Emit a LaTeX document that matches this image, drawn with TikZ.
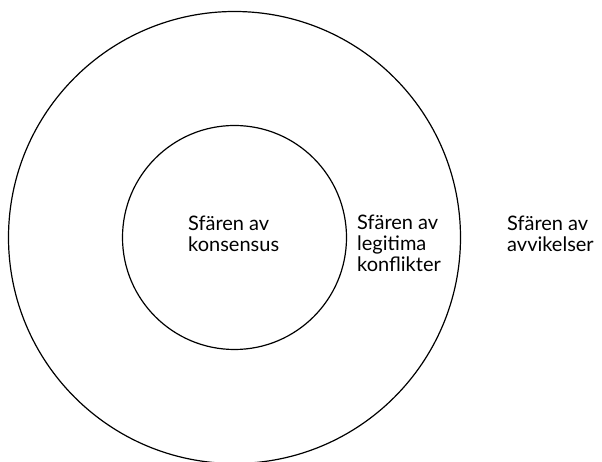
\documentclass[tikz,border=0pt]{standalone}
\usepackage{fontspec}
\setmainfont{Lato}
\begin{document}
\begin{tikzpicture}[x=1pt,y=1pt,
  ring/.style={circle,draw=black,line width=1.2pt,inner sep=0pt,outer sep=0pt},
  lbl/.style={align=left,anchor=base west,inner sep=0pt,font=\fontsize{20}{21}\selectfont}]
\useasboundingbox (0,0) rectangle (602,462);
\node[ring,minimum size=452pt] (outer) at (234.5,224.5) {};
\node[ring,minimum size=224pt] (inner) at (234.5,224.5) {};
\node[lbl] (cons) at (188,210) {Sfären av\\konsensus};
\node[lbl] (legit) at (357,190) {Sfären av\\legitima\\konflikter};
\node[lbl] (avvik) at (507,210) {Sfären av\\avvikelser};
\end{tikzpicture}
\end{document}
